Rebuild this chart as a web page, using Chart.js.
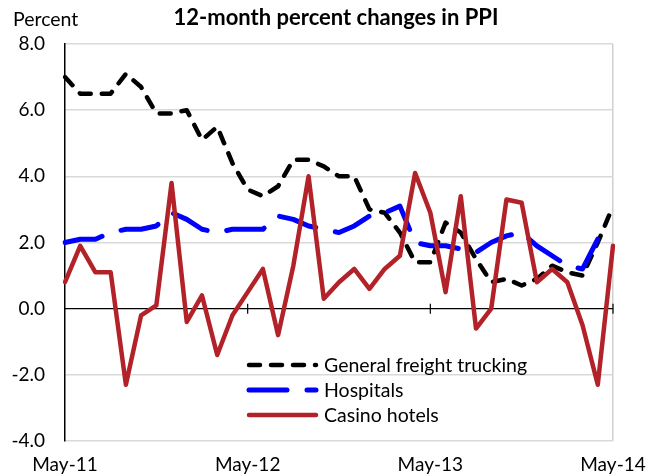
<!DOCTYPE html>
<html>
<head>
<meta charset="utf-8">
<script src="https://cdn.jsdelivr.net/npm/chart.js@4/dist/chart.umd.min.js"></script>
<style>
  html, body { margin: 0; padding: 0; background: #fff; }
</style>
</head>
<body>
<canvas id="grafico" width="661" height="476"></canvas>
<script>
// Datos (mensuales, May-11 a May-14)
const meses = ["Jan", "Feb", "Mar", "Apr", "May", "Jun", "Jul", "Aug", "Sep", "Oct", "Nov", "Dec"];
const categorias = [];
for (let k = 0; k < 37; k++) {
  const m = (4 + k) % 12;
  const anio = 11 + Math.floor((4 + k) / 12);
  categorias.push(meses[m] + "-" + anio);
}
const etiquetasX = ["May-11", "May-12", "May-13", "May-14"];
const ticksY = [-4, -2, 0, 2, 4, 6, 8];

const trucking = [7.0, 6.5, 6.5, 6.5, 7.1, 6.7, 5.9, 5.9, 6.0, 5.1, 5.5, 4.4, 3.6, 3.4, 3.7, 4.5, 4.5, 4.3, 4.0, 4.0, 3.0, 2.9, 2.3, 1.4, 1.4, 2.6, 2.3, 1.5, 0.8, 0.9, 0.7, 0.9, 1.3, 1.1, 1.0, 2.0, 3.1];
const hospitals = [2.0, 2.1, 2.1, 2.3, 2.4, 2.4, 2.5, 2.9, 2.7, 2.4, 2.3, 2.4, 2.4, 2.4, 2.8, 2.7, 2.5, 2.4, 2.3, 2.5, 2.8, 2.9, 3.1, 2.0, 1.9, 1.9, 1.8, 1.7, 2.0, 2.2, 2.3, 1.9, 1.6, 1.3, 1.2, 2.1, 2.1];
const casino = [0.8, 1.9, 1.1, 1.1, -2.3, -0.2, 0.1, 3.8, -0.4, 0.4, -1.4, -0.2, 0.5, 1.2, -0.8, 1.3, 4.0, 0.3, 0.8, 1.2, 0.6, 1.2, 1.6, 4.1, 2.9, 0.5, 3.4, -0.6, 0.0, 3.3, 3.2, 0.8, 1.2, 0.8, -0.5, -2.3, 1.9];

const fuente = "Lato, 'Open Sans', sans-serif";

// Eje cero con marcas anuales
const ejeCero = {
  id: "ejeCero",
  beforeDatasetsDraw(chart) {
    const { ctx, scales: { x, y }, chartArea } = chart;
    const y0 = y.getPixelForValue(0);
    ctx.save();
    ctx.strokeStyle = "#000";
    ctx.lineWidth = 1.2;
    ctx.beginPath();
    ctx.moveTo(chartArea.left, y0);
    ctx.lineTo(chartArea.right, y0);
    categorias.forEach((c, i) => {
      if (etiquetasX.includes(c) && i > 0) {
        const px = x.getPixelForValue(i);
        ctx.moveTo(px, y0 - 5);
        ctx.lineTo(px, y0 + 5);
      }
    });
    ctx.stroke();
    ctx.restore();
  }
};

// Titulo, "Percent" y leyenda dentro del grafico
const textos = {
  id: "textos",
  afterDraw(chart) {
    const ctx = chart.ctx;
    ctx.save();
    ctx.fillStyle = "#000";
    ctx.textBaseline = "middle";
    ctx.font = "bold 22px " + fuente;
    ctx.textAlign = "center";
    ctx.fillText("12-month percent changes in PPI", 336, 18);
    ctx.font = "19.5px " + fuente;
    ctx.textAlign = "left";
    ctx.fillText("Percent", 13, 20);

    chart.data.datasets.forEach((ds, i) => {
      const ly = 365 + i * 25;
      ctx.strokeStyle = ds.borderColor;
      ctx.lineWidth = ds.borderWidth;
      ctx.lineCap = "round";
      ctx.setLineDash(ds.borderDash || []);
      ctx.beginPath();
      ctx.moveTo(249, ly);
      ctx.lineTo(316, ly);
      ctx.stroke();
      ctx.setLineDash([]);
      ctx.fillStyle = "#000";
      ctx.font = "19.5px " + fuente;
      ctx.fillText(ds.label, 324, ly + 1);
    });
    ctx.restore();
  }
};

new Chart(document.getElementById("grafico"), {
  type: "line",
  data: {
    labels: categorias,
    datasets: [
      {
        label: "General freight trucking",
        data: trucking,
        borderColor: "#000000",
        borderWidth: 4.5,
        borderDash: [11, 11],
        borderCapStyle: "round",
        borderJoinStyle: "round",
        pointRadius: 0,
        tension: 0,
        order: 2
      },
      {
        label: "Hospitals",
        data: hospitals,
        borderColor: "#0000FF",
        borderWidth: 5,
        borderDash: [38, 20],
        borderCapStyle: "round",
        borderJoinStyle: "round",
        pointRadius: 0,
        tension: 0,
        order: 1
      },
      {
        label: "Casino hotels",
        data: casino,
        borderColor: "#B22228",
        borderWidth: 4.5,
        borderCapStyle: "round",
        borderJoinStyle: "round",
        pointRadius: 0,
        tension: 0,
        order: 0
      }
    ]
  },
  options: {
    responsive: false,
    animation: false,
    layout: { padding: { top: 44, right: 48, left: 0, bottom: 0 } },
    plugins: {
      legend: { display: false },
      title: { display: false },
      tooltip: { enabled: false }
    },
    scales: {
      x: {
        type: "category",
        afterFit(s) { s.height = 35; },
        border: { display: false },
        grid: {
          drawTicks: false,
          color: c => (c.index === categorias.length - 1 ? "#d0d0d0" : "transparent"),
          lineWidth: 1.5
        },
        ticks: {
          autoSkip: false,
          maxRotation: 0,
          padding: 12,
          color: "#000",
          font: { family: fuente, size: 19 },
          callback: (v, i) => (etiquetasX.includes(categorias[i]) ? categorias[i] : "")
        }
      },
      y: {
        min: -4,
        max: 8,
        afterFit(s) { s.width = 65; },
        afterBuildTicks(s) { s.ticks = ticksY.map(v => ({ value: v })); },
        border: { display: true, color: "#000", width: 1.5 },
        grid: {
          drawTicks: false,
          color: c => (c.tick && c.tick.value === 0 ? "transparent" : "#d9d9d9"),
          lineWidth: 1.5
        },
        ticks: {
          padding: 20,
          color: "#000",
          font: { family: fuente, size: 19 },
          callback: v => Number(v).toFixed(1)
        }
      }
    }
  },
  plugins: [ejeCero, textos]
});
</script>
</body>
</html>
